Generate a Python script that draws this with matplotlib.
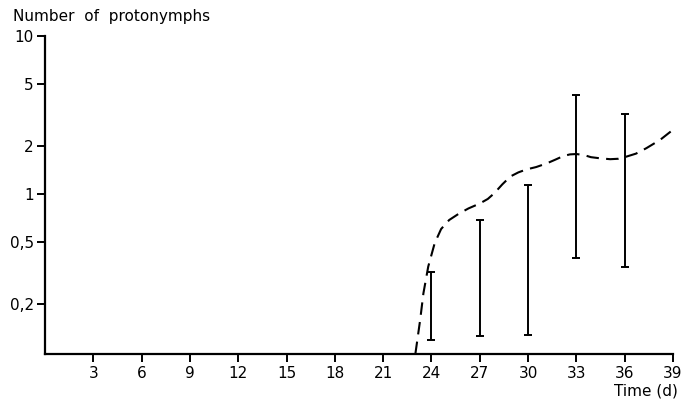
import matplotlib
matplotlib.use("Agg")
import matplotlib.pyplot as plt
import numpy as np
from matplotlib.ticker import FixedLocator, FixedFormatter, NullLocator

# days / values
curve_days = [23.0, 23.3, 23.5, 23.8, 24.2, 24.6, 25.1, 25.7, 26.3, 27.0,
              27.5, 27.9, 28.4, 28.9, 29.4, 29.9, 30.5, 31.15, 31.7, 32.2,
              32.6, 33.0, 33.5, 33.9, 34.5, 35.1, 35.6, 36.0, 36.7, 37.35,
              38.2, 39.0]
curve_vals = [0.097, 0.16, 0.235, 0.347, 0.488, 0.6, 0.684, 0.75, 0.81, 0.87,
              0.93, 1.01, 1.15, 1.29, 1.37, 1.43, 1.48, 1.56, 1.65, 1.74,
              1.78, 1.79, 1.76, 1.71, 1.68, 1.66, 1.67, 1.71, 1.8, 1.95,
              2.2, 2.55]

bar_days = [24, 27, 30, 33, 36]
bar_low = [0.119, 0.127, 0.128, 0.392, 0.344]
bar_high = [0.322, 0.684, 1.14, 4.23, 3.21]

x_ticks = [3, 6, 9, 12, 15, 18, 21, 24, 27, 30, 33, 36, 39]
y_ticks = [0.2, 0.5, 1, 2, 5, 10]
y_labels = ["0,2", "0,5", "1", "2", "5", "10"]

W, H = 685, 405
fig = plt.figure(figsize=(W / 100, H / 100), dpi=100)
ax = fig.add_axes([45 / W, (H - 354) / H, (673 - 45) / W, (354 - 36) / H])

ax.plot(curve_days, curve_vals, color="black", lw=1.5, ls=(0, (6, 3.5)))
lo = np.array(bar_low)
hi = np.array(bar_high)
ax.errorbar(bar_days, lo, yerr=[np.zeros_like(lo), hi - lo], fmt="none",
            ecolor="black", elinewidth=1.4, capsize=2.8, capthick=1.4)

ax.set_yscale("log")
ax.set_xlim(0, 39)
ax.set_ylim(0.097, 10)
ax.xaxis.set_major_locator(FixedLocator(x_ticks))
ax.yaxis.set_major_locator(FixedLocator(y_ticks))
ax.yaxis.set_major_formatter(FixedFormatter(y_labels))
ax.yaxis.set_minor_locator(NullLocator())
ax.xaxis.set_minor_locator(NullLocator())

for s in ["top", "right"]:
    ax.spines[s].set_visible(False)
for s in ["left", "bottom"]:
    ax.spines[s].set_linewidth(1.6)
ax.tick_params(direction="out", length=6, width=1.4, labelsize=11,
               colors="black")
ax.tick_params(axis="x", pad=3)
ax.tick_params(axis="y", pad=2)

fig.text(13 / W, 1 - 17 / H, "Number  of  protonymphs", fontsize=11,
         ha="left", va="center")
fig.text(678 / W, 1 - 391 / H, "Time (d)", fontsize=11, ha="right",
         va="center")

fig.savefig("out.png", dpi=100)
